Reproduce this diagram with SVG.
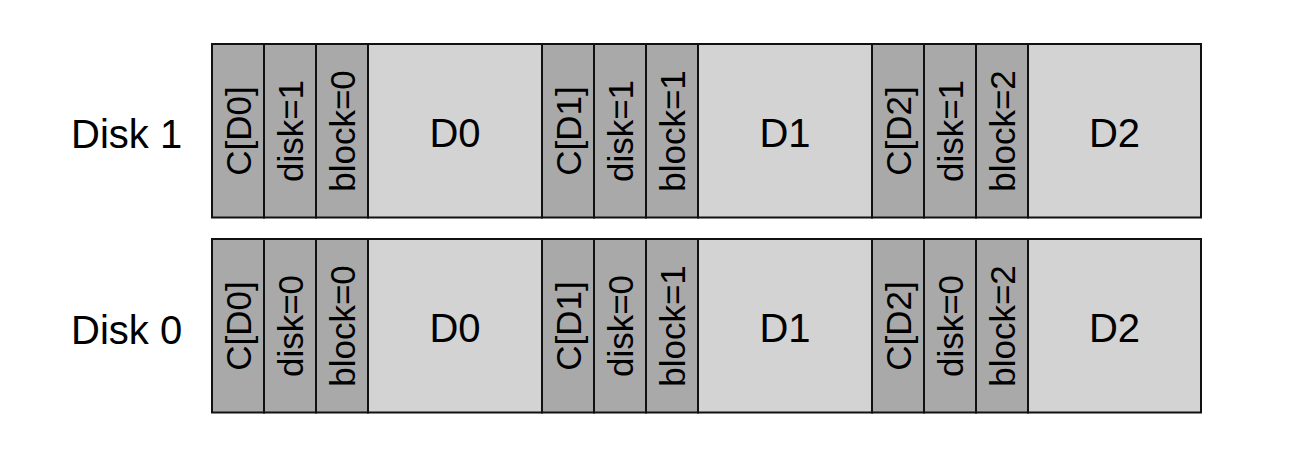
<svg xmlns="http://www.w3.org/2000/svg" width="1310" height="465" viewBox="0 0 1310 465">
<style>
.bg{fill:#ffffff}
.m{fill:#a9a9a9;stroke:#111;stroke-width:2}
.d{fill:#d3d3d3;stroke:#111;stroke-width:2}
.t{font-family:"Liberation Sans",Arial,sans-serif;fill:#000}
.r{font-size:35px;text-anchor:middle}
.b{font-size:40px;text-anchor:middle}
.l{font-size:40px}
</style>
<rect class="bg" x="0" y="0" width="1310" height="465"/>
<g id="disk1">
<text id="disk1-label" class="t l" x="71" y="147.5">Disk 1</text>
<g id="d1-cd0"><rect class="m" x="212" y="44" width="52" height="173.5"/><text class="t r" transform="translate(238,131) rotate(-90)" x="0" y="12.5">C[D0]</text></g>
<g id="d1-disk0"><rect class="m" x="264" y="44" width="52" height="173.5"/><text class="t r" transform="translate(290,131) rotate(-90)" x="0" y="12.5">disk=1</text></g>
<g id="d1-block0"><rect class="m" x="316" y="44" width="52" height="173.5"/><text class="t r" transform="translate(342,131) rotate(-90)" x="0" y="12.5">block=0</text></g>
<g id="d1-d0"><rect class="d" x="368" y="44" width="174" height="173.5"/><text class="t b" x="455" y="146.5">D0</text></g>
<g id="d1-cd1"><rect class="m" x="542" y="44" width="52" height="173.5"/><text class="t r" transform="translate(568,131) rotate(-90)" x="0" y="12.5">C[D1]</text></g>
<g id="d1-disk1"><rect class="m" x="594" y="44" width="52" height="173.5"/><text class="t r" transform="translate(620,131) rotate(-90)" x="0" y="12.5">disk=1</text></g>
<g id="d1-block1"><rect class="m" x="646" y="44" width="52" height="173.5"/><text class="t r" transform="translate(672,131) rotate(-90)" x="0" y="12.5">block=1</text></g>
<g id="d1-d1"><rect class="d" x="698" y="44" width="174" height="173.5"/><text class="t b" x="785" y="146.5">D1</text></g>
<g id="d1-cd2"><rect class="m" x="872" y="44" width="52" height="173.5"/><text class="t r" transform="translate(898,131) rotate(-90)" x="0" y="12.5">C[D2]</text></g>
<g id="d1-disk2"><rect class="m" x="924" y="44" width="52" height="173.5"/><text class="t r" transform="translate(950,131) rotate(-90)" x="0" y="12.5">disk=1</text></g>
<g id="d1-block2"><rect class="m" x="976" y="44" width="52" height="173.5"/><text class="t r" transform="translate(1002,131) rotate(-90)" x="0" y="12.5">block=2</text></g>
<g id="d1-d2"><rect class="d" x="1028" y="44" width="173" height="173.5"/><text class="t b" x="1114.5" y="146.5">D2</text></g>
</g>
<g id="disk0">
<text id="disk0-label" class="t l" x="71" y="344">Disk 0</text>
<g id="d0-cd0"><rect class="m" x="212" y="239" width="52" height="173.5"/><text class="t r" transform="translate(238,326) rotate(-90)" x="0" y="12.5">C[D0]</text></g>
<g id="d0-disk0"><rect class="m" x="264" y="239" width="52" height="173.5"/><text class="t r" transform="translate(290,326) rotate(-90)" x="0" y="12.5">disk=0</text></g>
<g id="d0-block0"><rect class="m" x="316" y="239" width="52" height="173.5"/><text class="t r" transform="translate(342,326) rotate(-90)" x="0" y="12.5">block=0</text></g>
<g id="d0-d0"><rect class="d" x="368" y="239" width="174" height="173.5"/><text class="t b" x="455" y="341.5">D0</text></g>
<g id="d0-cd1"><rect class="m" x="542" y="239" width="52" height="173.5"/><text class="t r" transform="translate(568,326) rotate(-90)" x="0" y="12.5">C[D1]</text></g>
<g id="d0-disk1"><rect class="m" x="594" y="239" width="52" height="173.5"/><text class="t r" transform="translate(620,326) rotate(-90)" x="0" y="12.5">disk=0</text></g>
<g id="d0-block1"><rect class="m" x="646" y="239" width="52" height="173.5"/><text class="t r" transform="translate(672,326) rotate(-90)" x="0" y="12.5">block=1</text></g>
<g id="d0-d1"><rect class="d" x="698" y="239" width="174" height="173.5"/><text class="t b" x="785" y="341.5">D1</text></g>
<g id="d0-cd2"><rect class="m" x="872" y="239" width="52" height="173.5"/><text class="t r" transform="translate(898,326) rotate(-90)" x="0" y="12.5">C[D2]</text></g>
<g id="d0-disk2"><rect class="m" x="924" y="239" width="52" height="173.5"/><text class="t r" transform="translate(950,326) rotate(-90)" x="0" y="12.5">disk=0</text></g>
<g id="d0-block2"><rect class="m" x="976" y="239" width="52" height="173.5"/><text class="t r" transform="translate(1002,326) rotate(-90)" x="0" y="12.5">block=2</text></g>
<g id="d0-d2"><rect class="d" x="1028" y="239" width="173" height="173.5"/><text class="t b" x="1114.5" y="341.5">D2</text></g>
</g>
</svg>
